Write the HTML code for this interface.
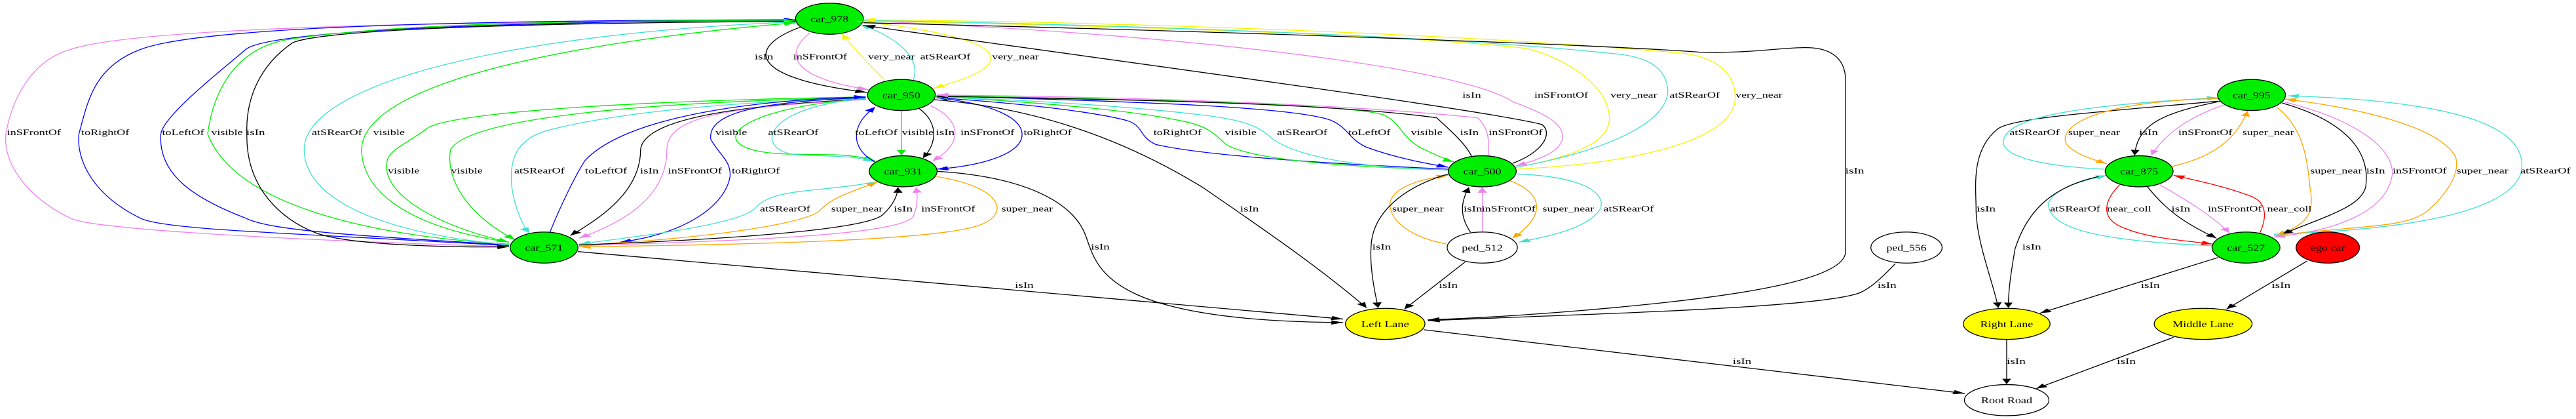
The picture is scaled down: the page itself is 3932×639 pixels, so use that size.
<!DOCTYPE html>
<html><head><meta charset="utf-8"><style>
html,body{margin:0;padding:0;background:#fff;}
svg{display:block}
path{fill:none;stroke-width:1.3;vector-effect:non-scaling-stroke}
.k{stroke:#000;marker-end:url(#mk)}
.b{stroke:#0000ff;marker-end:url(#mb)}
.v{stroke:#ee82ee;marker-end:url(#mv)}
.g{stroke:#00ee00;marker-end:url(#mg)}
.c{stroke:#40e0d0;marker-end:url(#mc)}
.y{stroke:#f5f500;marker-end:url(#my)}
.o{stroke:#ffa500;marker-end:url(#mo)}
.r{stroke:#ff0000;marker-end:url(#mr)}
ellipse{stroke:#000;stroke-width:1.3;vector-effect:non-scaling-stroke}
text{font-family:"Liberation Serif",serif;font-size:30px;fill:#000}
text.n{font-size:34px;text-anchor:middle}
</style></head><body>
<svg width="3932" height="639" viewBox="0 0 3932 639" xmlns="http://www.w3.org/2000/svg">
<defs>
<marker id="mk" markerUnits="userSpaceOnUse" markerWidth="22" markerHeight="16" refX="20" refY="8" orient="auto"><path d="M0,0 L20,8 L0,16z" style="fill:#000;stroke:none"/></marker>
<marker id="mb" markerUnits="userSpaceOnUse" markerWidth="22" markerHeight="16" refX="20" refY="8" orient="auto"><path d="M0,0 L20,8 L0,16z" style="fill:#0000ff;stroke:none"/></marker>
<marker id="mv" markerUnits="userSpaceOnUse" markerWidth="22" markerHeight="16" refX="20" refY="8" orient="auto"><path d="M0,0 L20,8 L0,16z" style="fill:#ee82ee;stroke:none"/></marker>
<marker id="mg" markerUnits="userSpaceOnUse" markerWidth="22" markerHeight="16" refX="20" refY="8" orient="auto"><path d="M0,0 L20,8 L0,16z" style="fill:#00ee00;stroke:none"/></marker>
<marker id="mc" markerUnits="userSpaceOnUse" markerWidth="22" markerHeight="16" refX="20" refY="8" orient="auto"><path d="M0,0 L20,8 L0,16z" style="fill:#40e0d0;stroke:none"/></marker>
<marker id="my" markerUnits="userSpaceOnUse" markerWidth="22" markerHeight="16" refX="20" refY="8" orient="auto"><path d="M0,0 L20,8 L0,16z" style="fill:#f5f500;stroke:none"/></marker>
<marker id="mo" markerUnits="userSpaceOnUse" markerWidth="22" markerHeight="16" refX="20" refY="8" orient="auto"><path d="M0,0 L20,8 L0,16z" style="fill:#ffa500;stroke:none"/></marker>
<marker id="mr" markerUnits="userSpaceOnUse" markerWidth="22" markerHeight="16" refX="20" refY="8" orient="auto"><path d="M0,0 L20,8 L0,16z" style="fill:#ff0000;stroke:none"/></marker>
</defs>

<!-- ZOOM1 coordinate group -->
<g transform="scale(0.8929,0.4082)">
<path class="v" d="M 870 922 C 400 890, 150 850, 120 815 C 40 730, 5 600, 10 500 C 20 380, 50 230, 120 185 C 250 90, 900 80, 1360 78"/>
<path class="b" d="M 870 918 C 500 870, 280 860, 240 815 C 160 730, 130 600, 135 500 C 150 380, 160 250, 240 185 C 350 90, 900 75, 1360 74"/>
<path class="b" d="M 870 915 C 600 880, 460 860, 420 815 C 330 740, 270 650, 275 500 C 280 430, 380 260, 420 185 C 460 110, 900 80, 1360 76"/>
<path class="g" d="M 870 912 C 620 880, 400 760, 355 500 C 360 420, 380 180, 500 145 C 700 80, 1100 75, 1360 78"/>
<path class="k" d="M 1360 80 C 900 85, 550 110, 500 160 C 440 250, 420 380, 422 500 C 420 700, 480 820, 540 870 C 600 920, 800 925, 870 922"/>
<path class="c" d="M 870 915 C 600 860, 520 700, 520 560 C 520 300, 900 120, 1360 82"/>
<path class="g" d="M 870 905 C 700 850, 620 720, 618 560 C 620 300, 1000 150, 1360 85"/>
<path class="g" d="M 1480 362 C 1000 380, 760 430, 730 480 C 700 530, 665 560, 662 600 C 650 700, 720 830, 870 905"/>
<path class="g" d="M 1480 365 C 1100 380, 800 440, 770 560 C 760 700, 820 830, 880 895"/>
<path class="c" d="M 1480 368 C 1200 380, 1020 440, 950 480 C 880 510, 870 600, 875 700 C 880 780, 895 850, 905 870"/>
<path class="b" d="M 940 868 C 960 760, 985 650, 1000 600 C 1050 480, 1200 380, 1480 362"/>
<path class="k" d="M 1480 370 C 1300 390, 1100 430, 1095 560 C 1095 700, 1040 800, 975 880"/>
<path class="v" d="M 1480 372 C 1250 400, 1140 430, 1140 560 C 1140 720, 1080 820, 990 890"/>
<path class="b" d="M 1480 365 C 1280 380, 1210 430, 1215 520 C 1230 580, 1250 600, 1248 660 C 1240 760, 1180 870, 1060 905"/>
<path class="g" d="M 1480 370 C 1250 400, 1190 560, 1340 575 C 1400 580, 1450 570, 1495 600"/>
<path class="c" d="M 1480 368 C 1300 400, 1290 560, 1360 578 C 1420 585, 1460 580, 1495 605"/>
<path class="c" d="M 1495 680 C 1400 720, 1320 700, 1290 780 C 1260 840, 1100 880, 990 912"/>
<path class="o" d="M 990 915 C 1150 900, 1360 850, 1400 790 C 1420 740, 1450 720, 1500 680"/>
<path class="k" d="M 990 915 C 1300 890, 1490 850, 1510 800 C 1530 760, 1535 720, 1535 700"/>
<path class="k" d="M 1370 100 C 1280 170, 1270 290, 1482 345"/>
<path class="v" d="M 1385 122 C 1340 200, 1350 290, 1485 335"/>
<path class="y" d="M 1512 298 C 1480 230, 1460 180, 1440 128"/>
<ellipse cx="1418" cy="70" rx="58" ry="58" fill="#00ee00"/>
<ellipse cx="930" cy="925" rx="58" ry="58" fill="#00ee00"/>
<text class="n" x="1418" y="82" textLength="65" lengthAdjust="spacingAndGlyphs">car_978</text>
<text class="n" x="930" y="937" textLength="65" lengthAdjust="spacingAndGlyphs">car_571</text>
<g text-anchor="middle">
<text x="58" y="505" textLength="92" lengthAdjust="spacingAndGlyphs">inSFrontOf</text>
<text x="180" y="505" textLength="82" lengthAdjust="spacingAndGlyphs">toRightOf</text>
<text x="313" y="505" textLength="72" lengthAdjust="spacingAndGlyphs">toLeftOf</text>
<text x="388" y="505" textLength="54" lengthAdjust="spacingAndGlyphs">visible</text>
<text x="437" y="505" textLength="32" lengthAdjust="spacingAndGlyphs">isIn</text>
<text x="576" y="505" textLength="86" lengthAdjust="spacingAndGlyphs">atSRearOf</text>
<text x="665" y="505" textLength="54" lengthAdjust="spacingAndGlyphs">visible</text>
<text x="690" y="648" textLength="54" lengthAdjust="spacingAndGlyphs">visible</text>
<text x="798" y="648" textLength="54" lengthAdjust="spacingAndGlyphs">visible</text>
<text x="922" y="648" textLength="86" lengthAdjust="spacingAndGlyphs">atSRearOf</text>
<text x="1036" y="648" textLength="72" lengthAdjust="spacingAndGlyphs">toLeftOf</text>
<text x="1110" y="648" textLength="32" lengthAdjust="spacingAndGlyphs">isIn</text>
<text x="1188" y="648" textLength="92" lengthAdjust="spacingAndGlyphs">inSFrontOf</text>
<text x="1292" y="648" textLength="82" lengthAdjust="spacingAndGlyphs">toRightOf</text>
<text x="1250" y="505" textLength="54" lengthAdjust="spacingAndGlyphs">visible</text>
<text x="1356" y="505" textLength="86" lengthAdjust="spacingAndGlyphs">atSRearOf</text>
<text x="1306" y="222" textLength="32" lengthAdjust="spacingAndGlyphs">isIn</text>
<text x="1402" y="222" textLength="92" lengthAdjust="spacingAndGlyphs">inSFrontOf</text>
<text x="1342" y="790" textLength="86" lengthAdjust="spacingAndGlyphs">atSRearOf</text>
<text x="1465" y="790" textLength="88" lengthAdjust="spacingAndGlyphs">super_near</text>
</g>
</g>

<!-- ZOOM2 coordinate group -->
<g transform="translate(1300,0) scale(0.8929,0.4082)">
<path class="c" d="M 105 300 C 120 220, 80 140, 15 92"/>
<path class="y" d="M 10 80 C 150 110, 240 160, 238 220 C 235 270, 180 305, 140 330"/>
<path class="b" d="M 40 605 C 0 560, -5 470, 40 400"/>
<path class="g" d="M 85 415 L 85 580"/>
<path class="k" d="M 115 405 C 150 460, 145 540, 122 590"/>
<path class="v" d="M 135 395 C 190 450, 190 540, 138 602"/>
<path class="b" d="M 145 365 C 250 390, 300 450, 290 520 C 280 580, 220 620, 145 632"/>
<path class="o" d="M 145 660 C 260 700, 270 800, 220 840 C 150 900, -200 915, -466 922"/>
<path class="v" d="M -466 918 C -200 900, 80 880, 105 810 C 115 760, 112 720, 110 700"/>
<path class="k" d="M 145 640 C 300 660, 380 760, 400 880 C 420 1000, 430 1200, 840 1205"/>
<path class="k" d="M 140 372 C 300 400, 450 500, 600 700 C 700 850, 800 1000, 880 1150"/>
<path class="k" d="M -468 940 L 840 1192"/>
<path class="k" d="M 1130 610 C 1180 570, 1200 500, 1180 465 C 1100 420, 700 300, 20 95"/>
<path class="v" d="M 20 78 C 600 130, 1050 260, 1130 380 C 1180 420, 1220 460, 1215 520 C 1210 570, 1170 600, 1135 620"/>
<path class="y" d="M 1135 625 C 1250 580, 1300 520, 1295 430 C 1290 300, 1200 200, 1150 180 C 900 120, 300 90, 20 78"/>
<path class="c" d="M 1135 625 C 1300 560, 1400 450, 1395 330 C 1390 250, 1360 210, 1300 200 C 1000 130, 400 90, 20 76"/>
<path class="y" d="M 1135 632 C 1350 610, 1500 520, 1510 380 C 1515 250, 1460 200, 1400 195 C 1000 120, 400 80, 20 74"/>
<path class="k" d="M 20 85 C 700 120, 1300 170, 1450 195 C 1530 200, 1580 180, 1627 178 C 1680 175, 1699 230, 1699 300 L 1699 940 C 1699 1050, 1500 1110, 1300 1150 C 1150 1180, 1050 1190, 985 1195"/>
<path class="k" d="M 1784 985 C 1760 1040, 1740 1080, 1722 1095 C 1650 1150, 1300 1170, 985 1198"/>
<path class="k" d="M 978 1232 L 1903 1470"/>
<path class="b" d="M 1020 632 C 800 610, 600 580, 520 540 C 490 510, 500 470, 470 450 C 400 410, 250 380, 145 365"/>
<path class="g" d="M 1020 635 C 800 620, 680 590, 640 540 C 620 500, 610 470, 560 450 C 450 400, 250 375, 145 360"/>
<path class="c" d="M 1020 635 C 850 625, 760 580, 720 520 C 700 480, 680 450, 600 430 C 450 390, 250 370, 145 362"/>
<path class="b" d="M 145 358 C 500 380, 760 400, 820 450 C 850 480, 850 520, 880 550 C 930 590, 980 610, 1020 625"/>
<path class="g" d="M 145 358 C 500 370, 860 390, 910 430 C 940 460, 940 520, 980 560 C 1000 580, 1020 600, 1030 605"/>
<path class="k" d="M 1060 585 C 1050 540, 1030 500, 1000 440 C 800 380, 400 370, 145 360"/>
<path class="v" d="M 1088 585 C 1090 530, 1090 480, 1070 440 C 800 380, 400 360, 145 355"/>
<path class="k" d="M 1058 868 C 1040 810, 1040 760, 1055 700"/>
<path class="v" d="M 1078 865 L 1078 700"/>
<path class="o" d="M 1018 912 C 960 890, 920 830, 920 760 C 925 700, 970 670, 1020 655"/>
<path class="o" d="M 1125 675 C 1180 720, 1190 800, 1130 890"/>
<path class="c" d="M 1138 650 C 1250 660, 1290 720, 1280 780 C 1260 850, 1200 880, 1140 905"/>
<path class="k" d="M 1020 650 C 940 700, 890 800, 888 920 C 885 1000, 895 1100, 900 1150"/>
<path class="k" d="M 1048 980 L 945 1155"/>
<ellipse cx="85" cy="355" rx="58" ry="58" fill="#00ee00"/>
<ellipse cx="88" cy="640" rx="58" ry="58" fill="#00ee00"/>
<ellipse cx="1078" cy="640" rx="58" ry="58" fill="#00ee00"/>
<ellipse cx="1078" cy="925" rx="60" ry="58" fill="#fff"/>
<ellipse cx="912" cy="1210" rx="68" ry="58" fill="#ffff00"/>
<text class="n" x="85" y="367" textLength="65" lengthAdjust="spacingAndGlyphs">car_950</text>
<text class="n" x="88" y="652" textLength="65" lengthAdjust="spacingAndGlyphs">car_931</text>
<text class="n" x="1078" y="652" textLength="65" lengthAdjust="spacingAndGlyphs">car_500</text>
<text class="n" x="1078" y="937" textLength="70" lengthAdjust="spacingAndGlyphs">ped_512</text>
<text class="n" x="912" y="1222" textLength="82" lengthAdjust="spacingAndGlyphs">Left Lane</text>
<g text-anchor="middle">
<text x="68" y="222" textLength="80" lengthAdjust="spacingAndGlyphs">very_near</text>
<text x="160" y="222" textLength="86" lengthAdjust="spacingAndGlyphs">atSRearOf</text>
<text x="280" y="222" textLength="80" lengthAdjust="spacingAndGlyphs">very_near</text>
<text x="42" y="505" textLength="72" lengthAdjust="spacingAndGlyphs">toLeftOf</text>
<text x="113" y="505" textLength="54" lengthAdjust="spacingAndGlyphs">visible</text>
<text x="160" y="505" textLength="32" lengthAdjust="spacingAndGlyphs">isIn</text>
<text x="232" y="505" textLength="92" lengthAdjust="spacingAndGlyphs">inSFrontOf</text>
<text x="335" y="505" textLength="82" lengthAdjust="spacingAndGlyphs">toRightOf</text>
<text x="557" y="505" textLength="82" lengthAdjust="spacingAndGlyphs">toRightOf</text>
<text x="665" y="505" textLength="54" lengthAdjust="spacingAndGlyphs">visible</text>
<text x="770" y="505" textLength="86" lengthAdjust="spacingAndGlyphs">atSRearOf</text>
<text x="885" y="505" textLength="72" lengthAdjust="spacingAndGlyphs">toLeftOf</text>
<text x="983" y="505" textLength="54" lengthAdjust="spacingAndGlyphs">visible</text>
<text x="1056" y="505" textLength="32" lengthAdjust="spacingAndGlyphs">isIn</text>
<text x="1135" y="505" textLength="92" lengthAdjust="spacingAndGlyphs">inSFrontOf</text>
<text x="1060" y="365" textLength="32" lengthAdjust="spacingAndGlyphs">isIn</text>
<text x="1213" y="365" textLength="92" lengthAdjust="spacingAndGlyphs">inSFrontOf</text>
<text x="1337" y="365" textLength="80" lengthAdjust="spacingAndGlyphs">very_near</text>
<text x="1441" y="365" textLength="86" lengthAdjust="spacingAndGlyphs">atSRearOf</text>
<text x="1551" y="365" textLength="80" lengthAdjust="spacingAndGlyphs">very_near</text>
<text x="88" y="790" textLength="32" lengthAdjust="spacingAndGlyphs">isIn</text>
<text x="165" y="790" textLength="92" lengthAdjust="spacingAndGlyphs">inSFrontOf</text>
<text x="300" y="790" textLength="88" lengthAdjust="spacingAndGlyphs">super_near</text>
<text x="680" y="790" textLength="32" lengthAdjust="spacingAndGlyphs">isIn</text>
<text x="425" y="932" textLength="32" lengthAdjust="spacingAndGlyphs">isIn</text>
<text x="968" y="790" textLength="88" lengthAdjust="spacingAndGlyphs">super_near</text>
<text x="1062" y="790" textLength="32" lengthAdjust="spacingAndGlyphs">isIn</text>
<text x="1123" y="790" textLength="92" lengthAdjust="spacingAndGlyphs">inSFrontOf</text>
<text x="1225" y="790" textLength="88" lengthAdjust="spacingAndGlyphs">super_near</text>
<text x="1328" y="790" textLength="86" lengthAdjust="spacingAndGlyphs">atSRearOf</text>
<text x="906" y="932" textLength="32" lengthAdjust="spacingAndGlyphs">isIn</text>
<text x="295" y="1075" textLength="32" lengthAdjust="spacingAndGlyphs">isIn</text>
<text x="1020" y="1075" textLength="32" lengthAdjust="spacingAndGlyphs">isIn</text>
<text x="1522" y="1360" textLength="32" lengthAdjust="spacingAndGlyphs">isIn</text>
</g>
</g>

<!-- ZOOM3 coordinate group -->
<g transform="translate(2600,0) scale(0.8495,0.4082)">
<path class="k" d="M 925 378 C 700 420, 560 440, 530 480 C 480 560, 490 700, 490 780 C 490 900, 520 1050, 530 1150"/>
<path class="c" d="M 720 632 C 600 620, 530 580, 540 520 C 550 430, 700 390, 925 365"/>
<path class="o" d="M 925 368 C 700 380, 650 470, 650 520 C 650 560, 690 590, 725 612"/>
<path class="k" d="M 930 378 C 830 420, 780 460, 775 580"/>
<path class="v" d="M 935 392 C 870 440, 830 500, 805 580"/>
<path class="o" d="M 842 622 C 930 580, 960 500, 978 415"/>
<path class="o" d="M 1030 400 C 1080 480, 1085 600, 1090 700 C 1100 810, 1080 840, 1030 880"/>
<path class="k" d="M 1040 385 C 1150 450, 1200 560, 1190 700 C 1180 770, 1130 800, 1040 875"/>
<path class="v" d="M 1042 380 C 1180 450, 1240 560, 1238 650 C 1230 780, 1150 860, 1025 885"/>
<path class="o" d="M 1025 880 C 1200 840, 1260 850, 1300 790 C 1350 700, 1360 620, 1350 580 C 1320 480, 1200 410, 1045 370"/>
<path class="c" d="M 1025 875 C 1250 860, 1450 800, 1470 640 C 1480 500, 1400 380, 1050 358"/>
<path class="c" d="M 915 918 C 700 900, 620 850, 620 760 C 630 700, 690 670, 725 655"/>
<path class="r" d="M 748 690 C 720 750, 710 820, 760 855 C 800 890, 870 900, 915 912"/>
<path class="k" d="M 798 698 C 830 780, 860 830, 922 890"/>
<path class="v" d="M 820 690 C 870 750, 910 800, 945 870"/>
<path class="r" d="M 1000 870 C 1015 800, 1010 750, 980 730 C 940 700, 900 680, 845 655"/>
<path class="k" d="M 710 660 C 620 700, 580 800, 560 930 C 550 1050, 548 1100, 548 1150"/>
<path class="k" d="M 925 962 L 605 1170"/>
<path class="k" d="M 1085 975 L 940 1155"/>
<path class="k" d="M 545 1270 L 545 1435"/>
<path class="k" d="M 845 1260 L 598 1452"/>
<ellipse cx="985" cy="355" rx="61" ry="58" fill="#00ee00"/>
<ellipse cx="783" cy="640" rx="61" ry="58" fill="#00ee00"/>
<ellipse cx="975" cy="925" rx="61" ry="58" fill="#00ee00"/>
<ellipse cx="1122" cy="925" rx="57" ry="58" fill="#ff0000"/>
<ellipse cx="365" cy="925" rx="64" ry="58" fill="#fff"/>
<ellipse cx="545" cy="1210" rx="78" ry="58" fill="#ffff00"/>
<ellipse cx="898" cy="1210" rx="88" ry="58" fill="#ffff00"/>
<ellipse cx="545" cy="1495" rx="76" ry="58" fill="#fff"/>
<text class="n" x="985" y="367" textLength="68" lengthAdjust="spacingAndGlyphs">car_995</text>
<text class="n" x="783" y="652" textLength="68" lengthAdjust="spacingAndGlyphs">car_875</text>
<text class="n" x="975" y="937" textLength="68" lengthAdjust="spacingAndGlyphs">car_527</text>
<text class="n" x="1122" y="937" textLength="62" lengthAdjust="spacingAndGlyphs">ego car</text>
<text class="n" x="365" y="937" textLength="72" lengthAdjust="spacingAndGlyphs">ped_556</text>
<text class="n" x="545" y="1222" textLength="95" lengthAdjust="spacingAndGlyphs">Right Lane</text>
<text class="n" x="898" y="1222" textLength="110" lengthAdjust="spacingAndGlyphs">Middle Lane</text>
<text class="n" x="545" y="1507" textLength="92" lengthAdjust="spacingAndGlyphs">Root Road</text>
<g text-anchor="middle">
<text x="272" y="648" textLength="34" lengthAdjust="spacingAndGlyphs">isIn</text>
<text x="330" y="1075" textLength="34" lengthAdjust="spacingAndGlyphs">isIn</text>
<text x="595" y="505" textLength="90" lengthAdjust="spacingAndGlyphs">atSRearOf</text>
<text x="702" y="505" textLength="93" lengthAdjust="spacingAndGlyphs">super_near</text>
<text x="800" y="505" textLength="34" lengthAdjust="spacingAndGlyphs">isIn</text>
<text x="902" y="505" textLength="97" lengthAdjust="spacingAndGlyphs">inSFrontOf</text>
<text x="1015" y="505" textLength="93" lengthAdjust="spacingAndGlyphs">super_near</text>
<text x="1137" y="648" textLength="93" lengthAdjust="spacingAndGlyphs">super_near</text>
<text x="1208" y="648" textLength="34" lengthAdjust="spacingAndGlyphs">isIn</text>
<text x="1287" y="648" textLength="97" lengthAdjust="spacingAndGlyphs">inSFrontOf</text>
<text x="1400" y="648" textLength="93" lengthAdjust="spacingAndGlyphs">super_near</text>
<text x="1513" y="648" textLength="90" lengthAdjust="spacingAndGlyphs">atSRearOf</text>
<text x="508" y="790" textLength="34" lengthAdjust="spacingAndGlyphs">isIn</text>
<text x="668" y="790" textLength="90" lengthAdjust="spacingAndGlyphs">atSRearOf</text>
<text x="765" y="790" textLength="80" lengthAdjust="spacingAndGlyphs">near_coll</text>
<text x="858" y="790" textLength="34" lengthAdjust="spacingAndGlyphs">isIn</text>
<text x="955" y="790" textLength="97" lengthAdjust="spacingAndGlyphs">inSFrontOf</text>
<text x="1053" y="790" textLength="80" lengthAdjust="spacingAndGlyphs">near_coll</text>
<text x="590" y="932" textLength="34" lengthAdjust="spacingAndGlyphs">isIn</text>
<text x="803" y="1075" textLength="34" lengthAdjust="spacingAndGlyphs">isIn</text>
<text x="1038" y="1075" textLength="34" lengthAdjust="spacingAndGlyphs">isIn</text>
<text x="562" y="1360" textLength="34" lengthAdjust="spacingAndGlyphs">isIn</text>
<text x="760" y="1360" textLength="34" lengthAdjust="spacingAndGlyphs">isIn</text>
</g>
</g>
</svg>
</body></html>
